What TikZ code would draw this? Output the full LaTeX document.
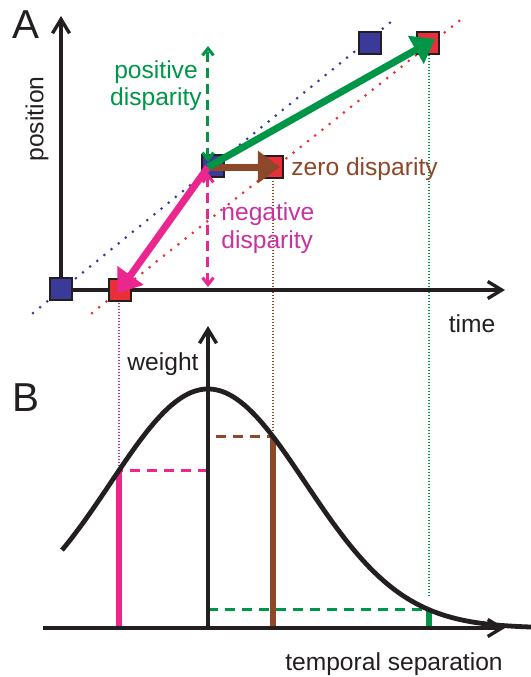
\documentclass[tikz,border=0pt]{standalone}
\usepackage{fontspec}
\setmainfont{Liberation Sans}
\usetikzlibrary{arrows.meta}
\definecolor{axisblack}{RGB}{35,31,32}
\definecolor{mygreen}{RGB}{0,150,72}
\definecolor{mymag}{RGB}{236,38,143}
\definecolor{mymagtext}{RGB}{200,50,160}
\definecolor{mybrown}{RGB}{140,72,40}
\definecolor{myblue}{RGB}{58,58,152}
\definecolor{myred}{RGB}{232,48,56}
\begin{document}
\begin{tikzpicture}[x=0.5pt,y=-0.5pt,
  lbl/.style={font=\fontsize{12.3}{13.6}\selectfont, inner sep=0pt},
  big/.style={font=\fontsize{20.2}{22}\selectfont, inner sep=0pt, text=axisblack},
  axis/.style={draw=axisblack, line width=1.7pt, -{Straight Barb[length=7pt,width=8.5pt]}},
  sq/.style={draw=axisblack, line width=0.75pt, minimum size=11pt, inner sep=0pt},
  diag/.style={line width=1.5pt, line cap=round, dash pattern=on 0pt off 4.6pt},
  thin/.style={line width=0.55pt, dash pattern=on 0.6pt off 0.9pt},
  fat/.style={line width=3.5pt, -{Triangle[length=11pt,width=15.5pt]}},
  dbl/.style={line width=1.5pt, dash pattern=on 5pt off 3pt, {Straight Barb[length=3.5pt,width=5.5pt]}-{Straight Barb[length=3.5pt,width=5.5pt]}},
  hdash/.style={line width=1.5pt, dash pattern=on 5pt off 3.5pt},
  bar/.style={line width=3pt},
  curve/.style={draw=axisblack, line width=2.4pt}
]
\useasboundingbox (0,0) rectangle (531,677);

% ---------- Panel A ----------
\node[big] (labA) at (25.5,24.5) {A};
% diagonal dotted lines
\coordinate (b1) at (33,313); \coordinate (b2) at (397,17);
\coordinate (r1) at (92,313); \coordinate (r2) at (464,17);
\draw[diag, myblue] (b1) -- (b2);
\draw[diag, myred] (r1) -- (r2);
% thin dotted guide lines
\coordinate (gm1) at (119,300); \coordinate (gm2) at (119,466);
\coordinate (gb1) at (273,178); \coordinate (gb2) at (273,432);
\coordinate (gg1) at (429,55);  \coordinate (gg2) at (429,597);
\draw[thin, mymag] (gm1) -- (gm2);
\draw[thin, mybrown] (gb1) -- (gb2);
\draw[thin, mygreen] (gg1) -- (gg2);
% axes
\coordinate (oA) at (61,290);
\coordinate (yA) at (61,16);
\coordinate (xA) at (505,290);
\draw[axis] (oA) -- (yA);
\draw[axis] (oA) -- (xA);
\node[lbl, rotate=90, text=axisblack] (pos) at (37,119) {position};
\node[lbl, anchor=base, text=axisblack] (time) at (472,332) {time};
% squares
\node[sq, fill=myblue] (bbot) at (61,289) {};
\node[sq, fill=myred]  (rbot) at (120,290) {};
\node[sq, fill=myblue] (bmid) at (213,166) {};
\node[sq, fill=myred]  (rmid) at (272,167) {};
\node[sq, fill=myblue] (btop) at (370,43) {};
\node[sq, fill=myred]  (rtop) at (428,43) {};
% dashed double arrows
\coordinate (o) at (208,167);
\coordinate (pd1) at (208,162); \coordinate (pd2) at (208,46);
\coordinate (nd1) at (208,173); \coordinate (nd2) at (208,287);
\draw[dbl, mygreen] (pd1) -- (pd2);
\draw[dbl, mymag] (nd1) -- (nd2);
% thick arrows
\draw[fat, mybrown, shorten >=-4pt] (o) -- (rmid.center);
\draw[fat, mymag, shorten >=-2pt] (o) -- (rbot.center);
\draw[fat, mygreen, shorten >=-4pt] (o) -- (rtop.center);
% labels (base anchor = last line)
\node[lbl, anchor=base, align=center, text=mygreen, font=\fontsize{12.3}{13.5}\selectfont] (posd) at (156,105) {positive\\disparity};
\node[lbl, anchor=base west, align=left, text=mymagtext, font=\fontsize{12.3}{14}\selectfont] (negd) at (221,248) {negative\\disparity};
\node[lbl, anchor=base west, text=mybrown] (zerod) at (291,175) {zero disparity};

% ---------- Panel B ----------
\node[big] (labB) at (25.5,398) {B};
\coordinate (cm) at (119,470.4);
\coordinate (cb) at (273,436.6);
\coordinate (cg) at (429,609.7);
\coordinate (am) at (119,628); \coordinate (ab) at (273,628); \coordinate (ag) at (429,628);
\coordinate (hm) at (208,470.4); \coordinate (hb) at (216,436.6); \coordinate (hg) at (208,609.7);
\draw[hdash, mymag] (hm) -- (cm);
\draw[hdash, mybrown] (hb) -- (cb);
\draw[hdash, mygreen] (hg) -- (cg);
\draw[bar, mymag] (am) -- (cm);
\draw[bar, mybrown] (ab) -- (cb);
\draw[bar, mygreen] (ag) -- (cg);
% axes
\coordinate (xB0) at (43,628); \coordinate (xB) at (505,628);
\coordinate (oB) at (208,628); \coordinate (yB) at (208,326);
\draw[axis] (xB0) -- (xB);
\draw[axis] (oB) -- (yB);
\node[lbl, anchor=base, text=axisblack] (wt) at (163,370) {weight};
\node[lbl, anchor=base, text=axisblack] (ts) at (394,670) {temporal separation};
% curve
\draw[curve] plot[domain=62:531, samples=150, smooth] (\x, {628-239*exp(-0.5*((\x-208)/97.5)^2)});
\end{tikzpicture}
\end{document}
